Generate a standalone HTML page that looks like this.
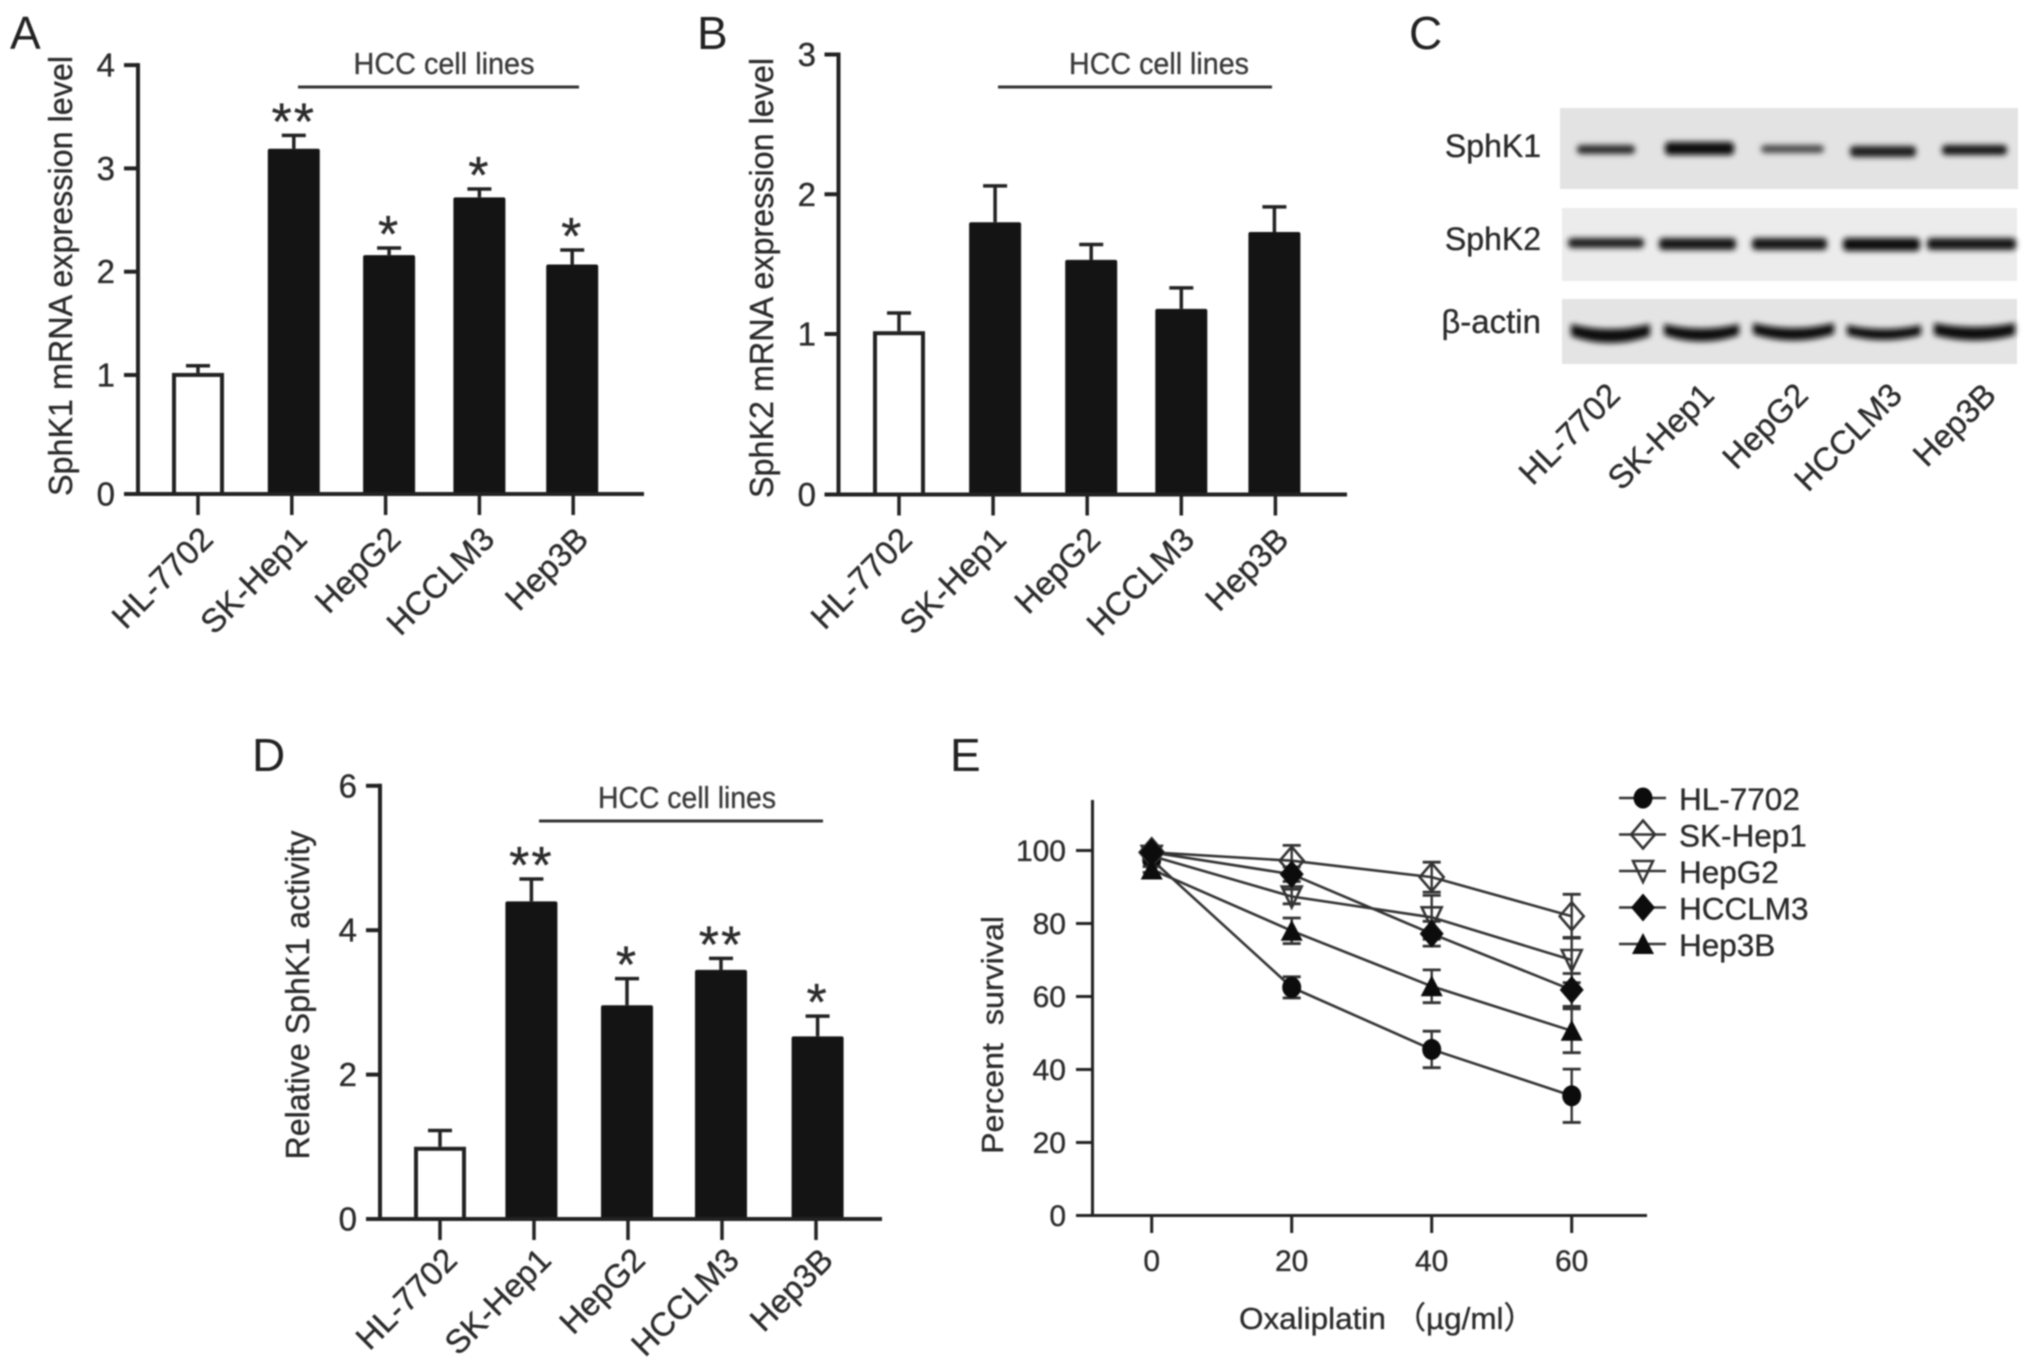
<!DOCTYPE html>
<html lang="en">
<head>
<meta charset="utf-8">
<title>SphK1 and SphK2 expression in HCC cell lines</title>
<style>
html,body{margin:0;padding:0;background:#fff;}
#figure{display:block;width:2031px;height:1364px;filter:blur(0.8px);}
text{font-family:"Liberation Sans","Noto Sans CJK SC",sans-serif;fill:#2b2b2b;stroke:#2b2b2b;stroke-width:0.35px;}
.letter{font-size:46px;fill:#222;stroke:none;}
.hcc{font-size:31px;fill:#3a3a3a;stroke:#3a3a3a;}
</style>
</head>
<body>
<svg id="figure" xmlns="http://www.w3.org/2000/svg" width="2031" height="1364" viewBox="0 0 2031 1364">
  <defs>
    <filter id="bandBlur" x="-20%" y="-80%" width="140%" height="260%"><feGaussianBlur stdDeviation="3"/></filter>
  </defs>
  <rect width="2031" height="1364" fill="#fff"/>
  <text class="letter" x="10" y="49">A</text>
  <text class="letter" x="697" y="49">B</text>
  <text class="letter" x="1409" y="49">C</text>
  <text class="letter" x="252" y="771">D</text>
  <text class="letter" x="950" y="771">E</text>

  <g>
    <g>
      <rect x="1560" y="108" width="458" height="81" fill="#e3e3e3"/>
      <g filter="url(#bandBlur)">
        <rect x="1577" y="145" width="58" height="9" rx="4" fill="#2c2c2c"/>
        <rect x="1665" y="142" width="69" height="13" rx="4" fill="#0a0a0a"/>
        <rect x="1761" y="145" width="63" height="8" rx="4" fill="#4a4a4a"/>
        <rect x="1850" y="146" width="66" height="11" rx="4" fill="#1a1a1a"/>
        <rect x="1942" y="145" width="65" height="10" rx="4" fill="#161616"/>
      </g>
    </g>
    <g>
      <rect x="1562" y="208" width="455" height="73" fill="#ececec"/>
      <g filter="url(#bandBlur)">
        <rect x="1568" y="238" width="76" height="10" rx="4" fill="#1c1c1c"/>
        <rect x="1659" y="238" width="77" height="12" rx="4" fill="#161616"/>
        <rect x="1752" y="238" width="75" height="12" rx="4" fill="#161616"/>
        <rect x="1843" y="238" width="77" height="13" rx="4" fill="#101010"/>
        <rect x="1927" y="238" width="89" height="12" rx="4" fill="#161616"/>
      </g>
    </g>
    <g>
      <rect x="1562" y="299" width="455" height="65" fill="#e4e4e4"/>
      <g filter="url(#bandBlur)" fill="#0a0a0a">
        <path d="M1571 324 Q1610 334 1650 324 L1650 336 Q1610 350 1571 336 Z"/>
        <path d="M1664 324 Q1701 333 1739 324 L1739 335 Q1701 348 1664 335 Z"/>
        <path d="M1753 323 Q1793 333 1834 323 L1834 334 Q1793 347 1753 334 Z"/>
        <path d="M1847 325 Q1884 333 1921 325 L1921 335 Q1884 345 1847 335 Z"/>
        <path d="M1934 323 Q1975 331 2015 323 L2015 335 Q1975 346 1934 335 Z"/>
      </g>
    </g>
    <text x="1541" y="157" text-anchor="end" font-size="32">SphK1</text>
    <text x="1541" y="250" text-anchor="end" font-size="32">SphK2</text>
    <text x="1541" y="333" text-anchor="end" font-size="33">β-actin</text>
  </g>
</svg>

<script>
// ---- shared categories ----
const categories = ["HL-7702", "SK-Hep1", "HepG2", "HCCLM3", "Hep3B"];

// ---- panel A ----
const ticksA = [0, 1, 2, 3, 4];
const valuesA = [1.02, 3.19, 2.16, 2.72, 2.07];
const errorsA = [0.07, 0.13, 0.07, 0.08, 0.14];
const starsA = ["", "**", "*", "*", "*"];

// ---- panel B ----
const ticksB = [0, 1, 2, 3];
const valuesB = [1.02, 1.80, 1.53, 1.18, 1.73];
const errorsB = [0.13, 0.26, 0.11, 0.15, 0.18];
const starsB = ["", "", "", "", ""];

// ---- panel D ----
const ticksD = [0, 2, 4, 6];
const valuesD = [1.0, 4.40, 2.96, 3.45, 2.53];
const errorsD = [0.225, 0.31, 0.37, 0.16, 0.28];
const starsD = ["", "**", "*", "**", "*"];

// ---- panel E ----
const dosesE = [0, 20, 40, 60];
const ticksEY = [0, 20, 40, 60, 80, 100];
const seriesNames = ["HL-7702", "SK-Hep1", "HepG2", "HCCLM3", "Hep3B"];
const survivalHL = [97.5, 62.5, 45.5, 32.8];
const survivalSK = [99.5, 97.2, 92.7, 82];
const survivalG2 = [98.5, 87.4, 81.7, 70];
const survivalLM = [99.5, 93.5, 77.2, 61.8];
const survivalB3 = [94.8, 78, 62.8, 50.6];
const errorHL = [0.8, 2.9, 5, 7.3];
const errorSK = [0.8, 4.2, 4.1, 6];
const errorG2 = [0.8, 2, 6, 6.2];
const errorLM = [0.8, 2, 3.4, 4.5];
const errorB3 = [0.8, 3.5, 4.5, 6];

const svg = document.getElementById('figure');
const NS = 'http://www.w3.org/2000/svg';

function make(tag, name, parent) {
  const el = document.createElementNS(NS, tag);
  
  
  parent.appendChild(el);
  return el;
}
function line(name, parent, x1, y1, x2, y2, w, color) {
  const el = make('line', name, parent);
  el.setAttribute('x1', x1);
  el.setAttribute('y1', y1);
  el.setAttribute('x2', x2);
  el.setAttribute('y2', y2);
  el.setAttribute('stroke', color || '#222');
  el.setAttribute('stroke-width', w);
  return el;
}
function label(name, parent, x, y, str, size, anchor) {
  const el = make('text', name, parent);
  el.setAttribute('x', x);
  el.setAttribute('y', y);
  el.setAttribute('font-size', size);
  el.setAttribute('text-anchor', anchor || 'start');
  el.textContent = str;
  return el;
}
function fitted(el, len) {
  el.setAttribute('textLength', len);
  el.setAttribute('lengthAdjust', 'spacingAndGlyphs');
}
function slug(s) {
  return s.toLowerCase().replace(/[^a-z0-9]+/g, '-');
}

function barPanel(p) {
  const g = make('g', 'panel-' + p.id + '-chart', svg);
  const xOf = i => p.x0 + i * p.step;
  const bottom = p.y(0);
  p.values.forEach((v, i) => {
    const cat = slug(categories[i]);
    const top = p.y(v);
    const errTop = p.y(v + p.errors[i]);
    const tickX = xOf(i);
    const cx = tickX + p.shift(i);
    line('error-stem-' + cat, g, cx, top, cx, errTop, 3.5);
    line('error-cap-' + cat, g, cx - 12, errTop, cx + 12, errTop, 3.5);
    const bar = make('rect', 'bar-' + cat, g);
    const hollow = i === 0;
    const inset = hollow ? 2 : 0;
    bar.setAttribute('x', cx - 26 + inset);
    bar.setAttribute('y', top + inset);
    bar.setAttribute('width', 52 - inset * 2);
    bar.setAttribute('height', Math.max(0, bottom - top - inset));
    bar.setAttribute('rx', hollow ? 0 : 2);
    bar.setAttribute('fill', hollow ? '#fff' : '#141414');
    if (hollow) {
      bar.setAttribute('stroke', '#222');
      bar.setAttribute('stroke-width', 4);
    }
    if (p.stars[i]) {
      const st = label('significance-' + cat, g, cx, errTop - 26 + 30, p.stars[i], 52, 'middle');
      st.setAttribute('fill', '#1c1c1c');
      st.setAttribute('stroke', '#1c1c1c');
      st.setAttribute('stroke-width', 1.3);
      st.setAttribute('letter-spacing', 2);
    }
    line('x-tick-' + cat, g, tickX, bottom, tickX, bottom + 21, 3.5);
    const tx = tickX + p.labelDx;
    const ty = bottom + p.labelDy;
    const t = label('x-label-' + cat, g, tx, ty, categories[i], 33, 'end');
    t.setAttribute('transform', 'rotate(-45 ' + tx + ' ' + ty + ')');
  });
  const topV = p.ticks[p.ticks.length - 1];
  line('y-axis', g, p.axisX, p.y(topV) - 2, p.axisX, bottom + 2, 4);
  line('x-axis', g, p.axisX - 14, bottom, p.xEnd, bottom, 4);
  p.ticks.forEach(t => {
    line('y-tick-' + t, g, p.axisX - 14, p.y(t), p.axisX, p.y(t), 4);
    label('y-label-' + t, g, p.labelX, p.y(t) + 11.5, String(t), 33, 'end');
  });
  const yt = label('y-axis-title', g, p.titleX, p.titleY, p.title, 33, 'middle');
  yt.setAttribute('transform', 'rotate(-90 ' + p.titleX + ' ' + p.titleY + ')');
  fitted(yt, p.titleLen);
  line('hcc-bracket-line', g, p.hccX1, p.hccLineY, p.hccX2, p.hccLineY, 3, '#333');
  const h = label('hcc-label', g, p.hccTextX, p.hccTextY, 'HCC cell lines', 31, 'middle');
  h.setAttribute('class', 'hcc');
  fitted(h, p.hccLen);
}

const yA = v => v <= 1 ? 494 - 119 * v : 375 - (v - 1) * 103.3;
const yB = v => v <= 1 ? 494.5 - 160.5 * v : 334 - (v - 1) * 139.75;
const yD = v => 1219 - 72.2 * v;

barPanel({id:'a', values:valuesA, errors:errorsA, stars:starsA, ticks:ticksA, y:yA,
  x0:198, step:93.8, shift:i => [0, 2, 3.5, 0, -1][i], axisX:138, xEnd:644, labelX:115,
  labelDx:17, labelDy:47,
  title:'SphK1 mRNA expression level', titleX:72, titleY:276, titleLen:440,
  hccX1:298, hccX2:579, hccLineY:87, hccTextX:444, hccTextY:74, hccLen:181});
barPanel({id:'b', values:valuesB, errors:errorsB, stars:starsB, ticks:ticksB, y:yB,
  x0:899, step:94.1, shift:i => [0, 2, 4, 0, -1][i], axisX:838.5, xEnd:1347, labelX:816,
  labelDx:15, labelDy:47,
  title:'SphK2 mRNA expression level', titleX:773, titleY:278, titleLen:440,
  hccX1:998, hccX2:1272, hccLineY:87, hccTextX:1159, hccTextY:74, hccLen:180});
barPanel({id:'d', values:valuesD, errors:errorsD, stars:starsD, ticks:ticksD, y:yD,
  x0:440, step:94, shift:i => [0, -2.6, -1, -1, 1.6][i], axisX:380, xEnd:882, labelX:357,
  labelDx:19, labelDy:43,
  title:'Relative SphK1 activity', titleX:309, titleY:995, titleLen:329,
  hccX1:539, hccX2:823, hccLineY:821, hccTextX:687, hccTextY:808, hccLen:178});

// ---- western blot lane labels ----
const blotG = make('g', 'blot-lane-labels', svg);
categories.forEach((c, i) => {
  const tx = 1622 + i * 94;
  const ty = 397;
  const t = label('blot-lane-' + slug(c), blotG, tx, ty, c, 33, 'end');
  t.setAttribute('transform', 'rotate(-45 ' + tx + ' ' + ty + ')');
});

// ---- panel E ----
const gE = make('g', 'panel-e-chart', svg);
const xE = d => 1151.7 + 7 * d;
const yE = v => 1215.5 - 3.65 * v;
const survival = [survivalHL, survivalSK, survivalG2, survivalLM, survivalB3];
const errorE = [errorHL, errorSK, errorG2, errorLM, errorB3];
const markerKind = ['circle', 'diamond-open', 'triangle-open', 'diamond', 'triangle'];

function marker(kind, name, parent, cx, cy) {
  let m;
  if (kind === 'circle') {
    m = make('ellipse', name, parent);
    m.setAttribute('cx', cx);
    m.setAttribute('cy', cy);
    m.setAttribute('rx', 9.5);
    m.setAttribute('ry', 10.5);
    m.setAttribute('fill', '#0c0c0c');
    return m;
  }
  m = make('polygon', name, parent);
  let pts;
  if (kind.indexOf('diamond') === 0) {
    pts = [[cx, cy - 14], [cx + 12, cy], [cx, cy + 14], [cx - 12, cy]];
  } else if (kind === 'triangle') {
    pts = [[cx, cy - 11], [cx + 11, cy + 10], [cx - 11, cy + 10]];
  } else {
    pts = [[cx - 10, cy - 10], [cx + 10, cy - 10], [cx, cy + 11]];
  }
  m.setAttribute('points', pts.map(q => q.join(',')).join(' '));
  if (kind.indexOf('open') > 0) {
    m.setAttribute('fill', 'none');
    m.setAttribute('stroke', '#333');
    m.setAttribute('stroke-width', 2.6);
  } else {
    m.setAttribute('fill', '#0c0c0c');
  }
  return m;
}

seriesNames.forEach((name, s) => {
  const key = slug(name);
  const sg = make('g', 'series-' + key, gE);
  const pl = make('polyline', 'series-line-' + key, sg);
  pl.setAttribute('points', dosesE.map((d, i) => xE(d) + ',' + yE(survival[s][i])).join(' '));
  pl.setAttribute('fill', 'none');
  pl.setAttribute('stroke', '#333');
  pl.setAttribute('stroke-width', 2.6);
  dosesE.forEach((d, i) => {
    const v = survival[s][i];
    const e = errorE[s][i];
    const px = xE(d);
    line('error-bar-' + key + '-' + d, sg, px, yE(v + e), px, yE(v - e), 2.4, '#333');
    line('error-cap-top-' + key + '-' + d, sg, px - 9, yE(v + e), px + 9, yE(v + e), 2.8, '#333');
    line('error-cap-bottom-' + key + '-' + d, sg, px - 9, yE(v - e), px + 9, yE(v - e), 2.8, '#333');
    marker(markerKind[s], 'point-' + key + '-' + d, sg, px, yE(v));
  });
});

line('y-axis', gE, 1092.5, 800, 1092.5, 1217, 3);
line('x-axis', gE, 1076, 1215.5, 1647, 1215.5, 3);
ticksEY.forEach(t => {
  line('y-tick-' + t, gE, 1076, yE(t), 1092.5, yE(t), 3);
  label('y-label-' + t, gE, 1066, yE(t) + 10.5, String(t), 30, 'end');
});
dosesE.forEach(d => {
  line('x-tick-' + d, gE, xE(d), 1215.5, xE(d), 1233, 3);
  label('x-label-' + d, gE, xE(d), 1271, String(d), 30, 'middle');
});
const ytE = label('y-axis-title', gE, 1003, 1035, 'Percent\u00A0\u00A0survival', 31, 'middle');
ytE.setAttribute('transform', 'rotate(-90 1003 1035)');
fitted(ytE, 238);
const xtE = label('x-axis-title', gE, 1239, 1329, 'Oxaliplatin \uFF08\u00B5g/ml\uFF09', 31, 'start');
fitted(xtE, 296);

// ---- legend ----
const legend = make('g', 'legend', svg);
const legendRow = i => 798 + i * 36.5;
seriesNames.forEach((name, s) => {
  const key = slug(name);
  const row = make('g', 'legend-entry-' + key, legend);
  const cy = legendRow(s);
  line('legend-line-' + key, row, 1619, cy, 1666, cy, 2.4, '#333');
  marker(markerKind[s], 'legend-marker-' + key, row, 1643, cy);
  label('legend-label-' + key, row, 1679, cy + 12, name, 31.5);
});
</script>
</body>
</html>
